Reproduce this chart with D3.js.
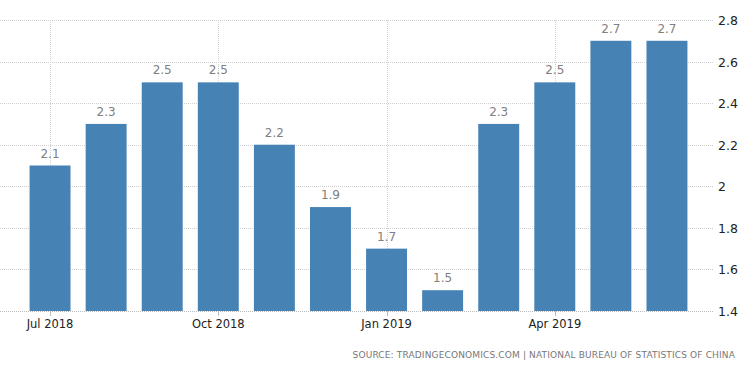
<!DOCTYPE html>
<html>
<head>
<meta charset="utf-8">
<script src="https://cdn.jsdelivr.net/npm/d3@7"></script>
<style>
  body { margin: 0; background: #fff; }
  svg { display: block; font-family: "DejaVu Sans", Verdana, sans-serif; }
</style>
</head>
<body>
<div id="chart"></div>
<script>
const months = ["2018-07", "2018-08", "2018-09", "2018-10", "2018-11", "2018-12",
                "2019-01", "2019-02", "2019-03", "2019-04", "2019-05", "2019-06"];
const values = [2.1, 2.3, 2.5, 2.5, 2.2, 1.9, 1.7, 1.5, 2.3, 2.5, 2.7, 2.7];
const xTicks = ["2018-07", "2018-10", "2019-01", "2019-04"];
const xTickLabels = ["Jul 2018", "Oct 2018", "Jan 2019", "Apr 2019"];
const yTicks = [1.4, 1.6, 1.8, 2, 2.2, 2.4, 2.6, 2.8];
const source = "SOURCE: TRADINGECONOMICS.COM | NATIONAL BUREAU OF STATISTICS OF CHINA";

const width = 750, height = 373;
const svg = d3.select("#chart").append("svg")
    .attr("width", width)
    .attr("height", height);

const x = d3.scaleBand()
    .domain(months)
    .range([22, 695])
    .paddingInner(0.27)
    .paddingOuter(0.135);

const y = d3.scaleLinear()
    .domain([1.4, 2.8])
    .range([311, 20]);

// horizontal grid
svg.append("g")
    .selectAll("line")
    .data(yTicks)
    .join("line")
    .attr("x1", 0)
    .attr("x2", 714)
    .attr("y1", d => Math.round(y(d)) + 0.5)
    .attr("y2", d => Math.round(y(d)) + 0.5)
    .attr("stroke", "#d0d0d0")
    .attr("stroke-dasharray", "1,1");

// vertical grid
svg.append("g")
    .selectAll("line")
    .data(xTicks)
    .join("line")
    .attr("x1", d => Math.round(x(d) + x.bandwidth() / 2) + 0.5)
    .attr("x2", d => Math.round(x(d) + x.bandwidth() / 2) + 0.5)
    .attr("y1", y(2.8))
    .attr("y2", y(1.4))
    .attr("stroke", "#d0d0d0")
    .attr("stroke-dasharray", "1,1");

// bars
svg.append("g")
    .selectAll("rect")
    .data(values)
    .join("rect")
    .attr("x", (d, i) => x(months[i]))
    .attr("width", x.bandwidth())
    .attr("y", d => y(d))
    .attr("height", d => y(1.4) - y(d))
    .attr("fill", "#4682b4");

// value labels
svg.append("g")
    .selectAll("text")
    .data(values)
    .join("text")
    .attr("x", (d, i) => x(months[i]) + x.bandwidth() / 2)
    .attr("y", d => y(d) - 8)
    .attr("text-anchor", "middle")
    .attr("font-size", 12)
    .attr("fill", "#808080")
    .text(d => d.toFixed(1));

// x axis
const xAxis = svg.append("g");
xAxis.append("line")
    .attr("x1", 0).attr("x2", 714)
    .attr("y1", 311.5).attr("y2", 311.5)
    .attr("stroke", "#bbb")
    .attr("stroke-dasharray", "1,1");
xAxis.selectAll("line.tick")
    .data(xTicks)
    .join("line")
    .attr("class", "tick")
    .attr("x1", d => Math.round(x(d) + x.bandwidth() / 2) + 0.5)
    .attr("x2", d => Math.round(x(d) + x.bandwidth() / 2) + 0.5)
    .attr("y1", 311)
    .attr("y2", 316)
    .attr("stroke", "#bbb");
xAxis.selectAll("text")
    .data(xTicks)
    .join("text")
    .attr("x", d => x(d) + x.bandwidth() / 2)
    .attr("y", 328)
    .attr("text-anchor", "middle")
    .attr("font-size", 11.5)
    .attr("fill", "#222")
    .text((d, i) => xTickLabels[i]);

// y axis on the right
svg.append("g")
    .selectAll("text")
    .data(yTicks)
    .join("text")
    .attr("x", 718)
    .attr("y", d => y(d) + 5)
    .attr("font-size", 12.5)
    .attr("fill", "#222")
    .text(d => d);

// source
svg.append("text")
    .attr("x", 735)
    .attr("y", 358)
    .attr("text-anchor", "end")
    .attr("font-size", 9)
    .attr("fill", "#777")
    .attr("letter-spacing", 0.15)
    .text(source);
</script>
</body>
</html>
